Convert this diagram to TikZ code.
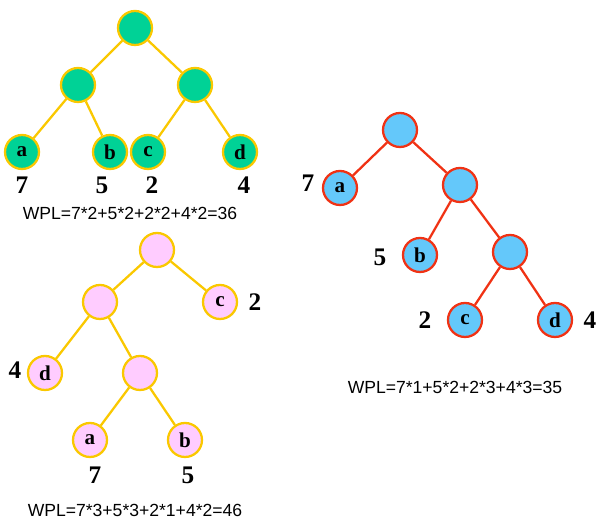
\documentclass[tikz,border=0pt]{standalone}
\usepackage{fontspec}
\setmainfont{Liberation Serif}
\newfontfamily\wplfont{Liberation Sans}
\definecolor{leafgreen}{RGB}{0,210,150}
\definecolor{edgeyellow}{RGB}{250,200,0}
\definecolor{leafpink}{RGB}{255,204,255}
\definecolor{leafblue}{RGB}{100,200,250}
\definecolor{edgered}{RGB}{240,50,20}
\begin{document}
\begin{tikzpicture}[x=0.02cm, y=-0.02cm]
        % Define node styles
        \tikzset{gnode/.style={circle,draw=edgeyellow,fill=leafgreen,line width=1.3pt,minimum size=0.68cm,inner sep=0pt,font=\bfseries\large},
                 pnode/.style={circle,draw=edgeyellow,fill=leafpink,line width=1.3pt,minimum size=0.68cm,inner sep=0pt,font=\bfseries\large},
                 bnode/.style={circle,draw=edgered,fill=leafblue,line width=1.3pt,minimum size=0.68cm,inner sep=0pt,font=\bfseries\large},
                 weight/.style={font=\bfseries\Large},
                 wpl/.style={font=\wplfont}}
        \useasboundingbox (0,0) rectangle (600,526);

        % First tree
        \node [gnode] (g-root) at (135,28) {};
        \node [gnode] (g-l) at (78,85) {};
        \node [gnode] (g-r) at (195,85) {};
        \foreach \m/\x in {a/22,b/110,c/148,d/240}
            \node [gnode] (g-\m) at (\x,152) {\m};
        \foreach \a/\b in {root/l,root/r,l/a,l/b,r/c,r/d}
            \draw [edgeyellow, line width=1.3pt] (g-\a) -- (g-\b);
        \foreach \w/\x in {7/22,5/102,2/152,4/244}
            \node [weight] (gw-\w) at (\x,185) {\w};
        \node [wpl] (g-wpl) at (130,213) {WPL=7*2+5*2+2*2+4*2=36};

        % Second tree
        \node [pnode] (p-root) at (157,250) {};
        \node [pnode] (p-l) at (100,302) {};
        \node [pnode] (p-c) at (220,302) {c};
        \node [pnode] (p-d) at (45,373) {d};
        \node [pnode] (p-m) at (140,373) {};
        \node [pnode] (p-a) at (90,440) {a};
        \node [pnode] (p-b) at (185,440) {b};
        \foreach \a/\b in {root/l,root/c,l/d,l/m,m/a,m/b}
            \draw [edgeyellow, line width=1.3pt] (p-\a) -- (p-\b);
        \node [weight] (pw-2) at (255,302) {2};
        \node [weight] (pw-4) at (15,370) {4};
        \node [weight] (pw-7) at (95,475) {7};
        \node [weight] (pw-5) at (188,475) {5};
        \node [wpl] (p-wpl) at (135,510) {WPL=7*3+5*3+2*1+4*2=46};

        % Third tree
        \node [bnode] (b-root) at (400,130) {};
        \node [bnode] (b-a) at (340,188) {a};
        \node [bnode] (b-n1) at (460,185) {};
        \node [bnode] (b-b) at (420,255) {b};
        \node [bnode] (b-n2) at (510,252) {};
        \node [bnode] (b-c) at (465,320) {c};
        \node [bnode] (b-d) at (555,320) {d};
        \foreach \a/\b in {root/a,root/n1,n1/b,n1/n2,n2/c,n2/d}
            \draw [edgered, line width=1.3pt] (b-\a) -- (b-\b);
        \node [weight] (bw-7) at (308,183) {7};
        \node [weight] (bw-5) at (380,257) {5};
        \node [weight] (bw-2) at (425,320) {2};
        \node [weight] (bw-4) at (590,320) {4};
        \node [wpl] (b-wpl) at (455,387) {WPL=7*1+5*2+2*3+4*3=35};
\end{tikzpicture}
\end{document}
